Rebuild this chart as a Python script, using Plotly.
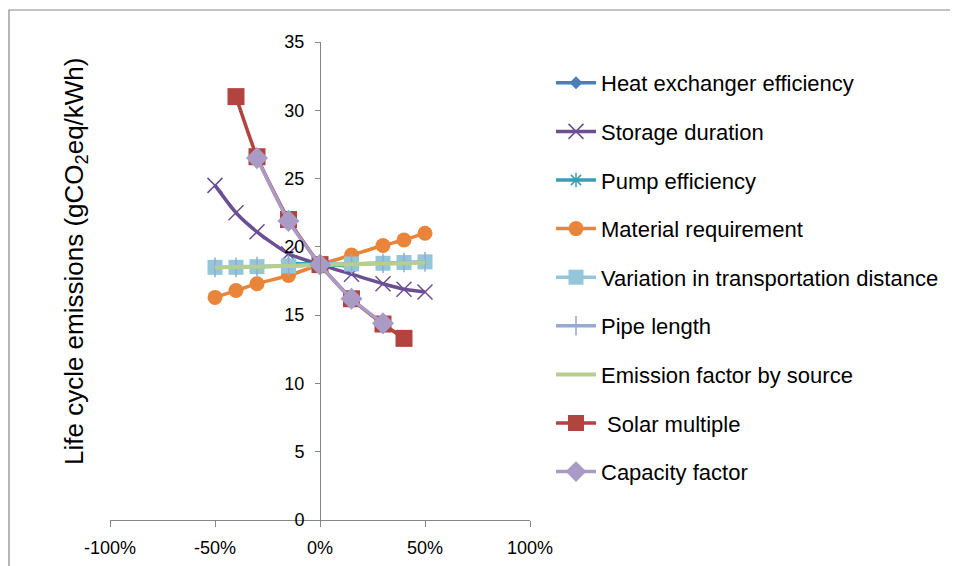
import plotly.graph_objects as go

x_all = [-50, -40, -30, -15, 0, 15, 30, 40, 50]
x_small = [-15, 0, 15]
x_solar = [-40, -30, -15, 0, 15, 30, 40]
x_cap = [-30, -15, 0, 15, 30]

heat_exchanger = [18.75, 18.7, 18.65]
storage_duration = [24.5, 22.5, 21.1, 19.5, 18.7, 18.0, 17.3, 16.9, 16.7]
pump_efficiency = [18.8, 18.7, 18.6]
material_requirement = [16.3, 16.8, 17.3, 17.9, 18.7, 19.4, 20.1, 20.5, 21.0]
transport_distance = [18.5, 18.5, 18.55, 18.6, 18.7, 18.75, 18.8, 18.85, 18.9]
pipe_length = [18.5, 18.5, 18.55, 18.6, 18.7, 18.75, 18.8, 18.85, 18.9]
emission_factor = [18.5, 18.52, 18.55, 18.6, 18.68, 18.72, 18.78, 18.8, 18.85]
solar_multiple = [31.0, 26.6, 22.0, 18.7, 16.2, 14.35, 13.3]
capacity_factor = [26.5, 21.9, 18.7, 16.2, 14.4]

x_tickvals = [-100, -50, 0, 50, 100]
y_tickvals = [0, 5, 10, 15, 20, 25, 30, 35]

series = [
    ("Heat exchanger efficiency", x_small, heat_exchanger, "#4A7EBB", dict(symbol="diamond", size=10, color="#4A7EBB")),
    ("Storage duration", x_all, storage_duration, "#6B4F94", dict(symbol="x-thin", size=15, color="#6B4F94", line=dict(color="#6B4F94", width=1.5))),
    ("Pump efficiency", x_small, pump_efficiency, "#3A9DB5", dict(symbol="asterisk", size=12, color="#3A9DB5", line=dict(color="#3A9DB5", width=1.5))),
    ("Material requirement", x_all, material_requirement, "#E8853A", dict(symbol="circle", size=15, color="#E8853A")),
    ("Variation in transportation distance", x_all, transport_distance, "#93C6D9", dict(symbol="square", size=15, color="#93C6D9")),
    ("Pipe length", x_all, pipe_length, "#95A9D3", dict(symbol="line-ns", size=14, color="#95A9D3", line=dict(color="#95A9D3", width=1.5))),
    ("Emission factor by source", x_all, emission_factor, "#B6CF8E", None),
    (" Solar multiple", x_solar, solar_multiple, "#B2433F", dict(symbol="square", size=17, color="#B2433F")),
    ("Capacity factor", x_cap, capacity_factor, "#A99BC5", dict(symbol="diamond", size=17, color="#A99BC5")),
]

fig = go.Figure()
for i, (name, xs, ys, col, mk) in enumerate(series):
    fig.add_trace(go.Scatter(
        x=xs, y=ys, name=name,
        mode="lines+markers" if mk else "lines",
        line=dict(color=col, width=4 if mk is None else 3.5, shape="spline", smoothing=0.6),
        marker=mk if mk else None,
        legendgroup=f"g{i}",
    ))

# The page body adds an 8px offset; figure is 950x558 placed at (8,8).
OFF = 8
L, R, T, B = 110, 530, 42, 520  # target plot-area pixel bounds in the window
PW, PH = R - L, B - T


def px(xp):
    return (xp - L) / PW


def py(yp):
    return (B - yp) / PH


fig.update_layout(
    width=958 - OFF, height=566 - OFF,
    margin=dict(l=L - OFF, r=958 - R, t=T - OFF, b=566 - B, autoexpand=False),
    paper_bgcolor="white", plot_bgcolor="white",
    font=dict(family="Liberation Sans, Arial", size=18, color="black"),
    showlegend=True,
    legend=dict(
        x=px(551), y=py(62), xanchor="left", yanchor="top",
        font=dict(family="Liberation Sans, Arial", size=22, color="black"),
        tracegroupgap=17, itemwidth=40, bgcolor="rgba(0,0,0,0)",
    ),
    xaxis=dict(
        range=[-100, 100], tickvals=x_tickvals, ticktext=[f"{v}%" for v in x_tickvals],
        showgrid=False, zeroline=False, showline=True, linecolor="#868686", linewidth=1,
        ticks="outside", ticklen=6, tickcolor="#868686", ticklabelstandoff=5, automargin=False,
        tickfont=dict(family="Liberation Sans, Arial", size=18),
    ),
    yaxis=dict(
        range=[0, 35], tickvals=y_tickvals,
        anchor="free", position=0.5, automargin=False,
        showgrid=False, zeroline=False, showline=True, linecolor="#868686", linewidth=1,
        ticks="outside", ticklen=5, tickcolor="#868686", ticklabelstandoff=7,
        tickfont=dict(family="Liberation Sans, Arial", size=18),
    ),
    shapes=[dict(type="rect", xref="paper", yref="paper",
                 x0=px(9), x1=px(990),
                 y0=py(600), y1=py(10),
                 line=dict(color="#878787", width=1.2), fillcolor="rgba(0,0,0,0)", layer="below")],
    annotations=[dict(
        text="Life cycle emissions (gCO<sub>2</sub>eq/kWh)", xref="paper", yref="paper",
        x=px(75), y=py(262), textangle=-90, showarrow=False,
        font=dict(family="Liberation Sans, Arial", size=26, color="black"),
        xanchor="center", yanchor="middle",
    )],
)

fig.write_html("out.html")
